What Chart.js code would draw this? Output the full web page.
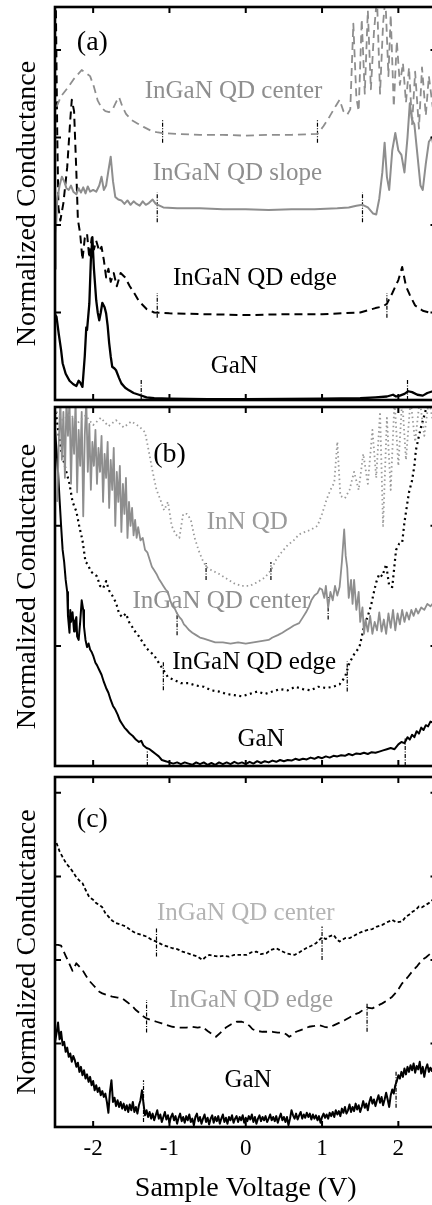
<!DOCTYPE html>
<html><head><meta charset="utf-8">
<script src="https://cdn.jsdelivr.net/npm/chart.js@4"></script>
<style>
html,body{margin:0;padding:0;background:#fff;overflow:hidden;width:432px;height:1205px;position:relative;}
canvas{position:absolute;left:0;}
</style></head><body>
<canvas id="ca" width="440" height="402" style="top:0px"></canvas>
<canvas id="cb" width="440" height="366" style="top:402px"></canvas>
<canvas id="cc" width="440" height="437" style="top:768px"></canvas>
<script>
// ---------- shared axis values ----------
const xTicks = [-2, -1, 0, 1, 2];
const xLabelText = "Sample Voltage (V)";
const yLabelText = "Normalized Conductance";
const yTicksA = [1, 2, 3, 4];
const yTicksB = [1, 2];
const yTicksC = [1, 2, 3, 4];

// ---------- panel (a) : [voltage, normalized conductance] ----------
const aCenter = [[-2.48,3.35],[-2.42,3.47],[-2.34,3.56],[-2.26,3.66],[-2.20,3.72],[-2.15,3.77],[-2.10,3.74],[-2.04,3.70],[-1.99,3.58],[-1.94,3.42],[-1.89,3.34],[-1.84,3.30],[-1.79,3.29],[-1.74,3.33],[-1.69,3.42],[-1.66,3.46],[-1.62,3.36],[-1.57,3.27],[-1.50,3.20],[-1.42,3.16],[-1.34,3.12],[-1.25,3.08],[-1.17,3.06],[-1.09,3.05],[-0.9,3.04],[-0.6,3.03],[-0.3,3.03],[0,3.02],[0.3,3.03],[0.6,3.03],[0.94,3.04],[1.02,3.13],[1.10,3.24],[1.18,3.36],[1.23,3.43],[1.28,3.30],[1.33,3.26],[1.37,3.32],[1.41,4.30],[1.45,3.45],[1.48,3.30],[1.52,4.35],[1.56,3.50],[1.60,4.45],[1.64,3.55],[1.68,4.20],[1.72,4.60],[1.76,3.50],[1.80,4.30],[1.83,4.60],[1.87,3.70],[1.90,4.40],[1.94,3.35],[1.98,4.10],[2.02,3.60],[2.06,3.85],[2.10,3.40],[2.14,3.80],[2.18,3.15],[2.22,3.75],[2.27,3.10],[2.31,3.80],[2.36,3.25],[2.40,3.70],[2.45,3.35],[2.50,3.75]];
const aSlope = [[-2.5,1.5],[-2.49,1.9],[-2.47,2.3],[-2.44,2.45],[-2.41,2.55],[-2.38,2.5],[-2.35,2.42],[-2.32,2.4],[-2.29,2.45],[-2.26,2.38],[-2.22,2.35],[-2.19,2.42],[-2.16,2.37],[-2.13,2.43],[-2.10,2.36],[-2.07,2.44],[-2.04,2.38],[-2.0,2.4],[-1.96,2.38],[-1.92,2.45],[-1.89,2.55],[-1.86,2.4],[-1.83,2.45],[-1.80,2.62],[-1.77,2.78],[-1.74,2.5],[-1.71,2.32],[-1.67,2.29],[-1.63,2.28],[-1.59,2.24],[-1.55,2.28],[-1.51,2.23],[-1.47,2.27],[-1.43,2.24],[-1.39,2.22],[-1.35,2.27],[-1.31,2.23],[-1.27,2.25],[-1.22,2.29],[-1.18,2.24],[-1.13,2.22],[-1.08,2.2],[-0.9,2.19],[-0.6,2.19],[-0.3,2.18],[0,2.18],[0.3,2.17],[0.6,2.18],[0.9,2.18],[1.2,2.19],[1.35,2.2],[1.45,2.22],[1.53,2.23],[1.6,2.2],[1.67,2.13],[1.71,2.12],[1.75,2.3],[1.79,2.6],[1.82,2.94],[1.85,2.55],[1.88,2.4],[1.92,2.85],[1.96,3.05],[2.0,2.85],[2.04,2.8],[2.08,2.6],[2.12,3.0],[2.15,3.39],[2.18,3.2],[2.21,3.15],[2.25,2.8],[2.29,2.45],[2.32,2.4],[2.36,2.7],[2.40,2.95],[2.44,3.0],[2.48,2.8],[2.5,2.6]];
const aEdge = [[-2.49,4.6],[-2.47,3.0],[-2.455,2.2],[-2.43,2.05],[-2.39,2.25],[-2.34,2.66],[-2.30,3.2],[-2.28,3.43],[-2.25,3.3],[-2.22,2.6],[-2.20,2.06],[-2.17,1.9],[-2.14,1.6],[-2.11,1.85],[-2.08,1.9],[-2.05,1.62],[-2.02,1.85],[-1.99,1.72],[-1.96,1.82],[-1.92,1.7],[-1.89,1.75],[-1.86,1.6],[-1.83,1.4],[-1.80,1.5],[-1.77,1.35],[-1.73,1.45],[-1.69,1.3],[-1.64,1.45],[-1.58,1.4],[-1.52,1.3],[-1.46,1.22],[-1.40,1.13],[-1.30,1.04],[-1.2,1.0],[-1.0,0.99],[-0.5,0.98],[0,0.97],[0.5,0.98],[1.0,0.98],[1.5,1.0],[1.7,1.05],[1.8,1.07],[1.85,1.1],[1.92,1.22],[2.0,1.37],[2.05,1.52],[2.1,1.3],[2.15,1.2],[2.22,1.08],[2.32,1.02],[2.4,1.0],[2.5,1.0]];
const aGaN = [[-2.5,0.98],[-2.48,0.95],[-2.45,0.75],[-2.42,0.57],[-2.40,0.42],[-2.36,0.3],[-2.31,0.22],[-2.26,0.18],[-2.22,0.16],[-2.19,0.22],[-2.17,0.2],[-2.14,0.15],[-2.11,0.5],[-2.09,0.83],[-2.08,0.8],[-2.05,1.1],[-2.03,1.6],[-2.01,1.86],[-1.99,1.5],[-1.96,1.14],[-1.94,1.0],[-1.92,0.91],[-1.90,1.0],[-1.88,1.11],[-1.85,1.06],[-1.83,0.99],[-1.81,0.85],[-1.79,0.65],[-1.77,0.5],[-1.75,0.38],[-1.72,0.36],[-1.70,0.34],[-1.66,0.25],[-1.63,0.19],[-1.58,0.14],[-1.53,0.11],[-1.47,0.08],[-1.40,0.06],[-1.3,0.03],[-1.2,0.02],[-1.0,0.015],[-0.5,0.01],[0,0.01],[0.5,0.012],[1.0,0.015],[1.5,0.02],[1.7,0.03],[1.85,0.04],[1.93,0.06],[1.97,0.04],[2.02,0.05],[2.08,0.07],[2.13,0.1],[2.18,0.09],[2.25,0.06],[2.32,0.05],[2.38,0.08],[2.45,0.1],[2.5,0.12]];
// band-edge markers: [voltage, low, high]
const aMarkers = [[-1.09,2.94,3.2],[0.94,2.94,3.2],[-1.16,2.03,2.37],[1.53,2.03,2.37],[-1.16,0.94,1.22],[1.85,0.94,1.22],[-1.37,0,0.23],[2.12,0,0.23]];

// ---------- panel (b) ----------
const bInN = [[-2.48,2.95],[-2.4,2.88],[-2.3,2.93],[-2.2,2.86],[-2.1,2.92],[-2.0,2.84],[-1.9,2.9],[-1.8,2.83],[-1.7,2.88],[-1.6,2.82],[-1.5,2.87],[-1.4,2.83],[-1.32,2.78],[-1.27,2.62],[-1.22,2.45],[-1.17,2.3],[-1.12,2.22],[-1.07,2.13],[-1.02,2.2],[-0.97,2.0],[-0.92,1.93],[-0.87,1.9],[-0.82,2.1],[-0.77,2.1],[-0.72,2.05],[-0.67,1.9],[-0.62,1.8],[-0.57,1.72],[-0.52,1.66],[-0.45,1.63],[-0.35,1.6],[-0.25,1.56],[-0.15,1.52],[-0.05,1.5],[0.05,1.5],[0.15,1.53],[0.25,1.57],[0.33,1.63],[0.40,1.72],[0.47,1.78],[0.55,1.84],[0.63,1.88],[0.7,1.93],[0.78,1.95],[0.86,1.97],[0.94,2.0],[1.0,2.1],[1.06,2.22],[1.11,2.3],[1.16,2.36],[1.2,2.7],[1.24,2.25],[1.3,2.23],[1.36,2.3],[1.42,2.45],[1.48,2.3],[1.54,2.6],[1.6,2.35],[1.66,2.8],[1.71,2.4],[1.76,2.95],[1.8,2.0],[1.85,2.9],[1.9,2.3],[1.95,3.05],[2.0,2.5],[2.05,3.05],[2.1,2.55],[2.16,3.05],[2.22,2.7],[2.28,3.05],[2.34,2.75],[2.4,3.05],[2.46,2.85],[2.5,3.0]];
const bCenter = [[-2.47,2.2],[-2.45,2.7],[-2.43,3.05],[-2.41,2.55],[-2.39,2.95],[-2.37,2.4],[-2.35,3.05],[-2.33,2.75],[-2.31,3.05],[-2.29,2.35],[-2.27,2.9],[-2.25,2.6],[-2.23,3.05],[-2.21,2.28],[-2.19,2.8],[-2.17,2.5],[-2.15,2.95],[-2.13,2.08],[-2.11,2.75],[-2.09,3.05],[-2.07,2.45],[-2.05,2.85],[-2.03,2.3],[-2.01,2.7],[-1.99,2.5],[-1.97,2.8],[-1.95,2.35],[-1.93,2.65],[-1.91,2.45],[-1.89,2.75],[-1.87,2.2],[-1.85,2.6],[-1.83,2.4],[-1.81,2.7],[-1.79,2.15],[-1.77,2.55],[-1.75,2.3],[-1.73,2.65],[-1.71,2.0],[-1.69,2.45],[-1.67,2.2],[-1.65,2.5],[-1.63,1.95],[-1.61,2.35],[-1.59,2.1],[-1.57,2.4],[-1.55,1.9],[-1.53,2.2],[-1.51,2.0],[-1.49,2.15],[-1.47,1.92],[-1.45,2.05],[-1.43,1.9],[-1.41,1.99],[-1.38,1.88],[-1.35,1.9],[-1.32,1.8],[-1.29,1.78],[-1.26,1.72],[-1.23,1.66],[-1.2,1.63],[-1.17,1.6],[-1.14,1.56],[-1.11,1.53],[-1.08,1.5],[-1.05,1.47],[-1.02,1.45],[-0.99,1.38],[-0.96,1.33],[-0.93,1.31],[-0.9,1.27],[-0.87,1.24],[-0.84,1.22],[-0.81,1.18],[-0.78,1.16],[-0.74,1.13],[-0.70,1.11],[-0.65,1.09],[-0.6,1.07],[-0.55,1.06],[-0.5,1.05],[-0.45,1.04],[-0.4,1.03],[-0.3,1.03],[-0.2,1.02],[-0.1,1.03],[0,1.02],[0.1,1.03],[0.2,1.04],[0.3,1.05],[0.35,1.07],[0.42,1.09],[0.48,1.11],[0.53,1.13],[0.58,1.15],[0.63,1.17],[0.7,1.19],[0.75,1.24],[0.79,1.28],[0.83,1.33],[0.86,1.38],[0.9,1.42],[0.94,1.44],[0.97,1.48],[1.0,1.47],[1.03,1.4],[1.05,1.5],[1.08,1.32],[1.11,1.45],[1.14,1.38],[1.17,1.5],[1.2,1.42],[1.23,1.49],[1.26,1.7],[1.29,1.97],[1.31,1.75],[1.33,1.65],[1.35,1.4],[1.38,1.55],[1.4,1.35],[1.42,1.55],[1.45,1.3],[1.48,1.45],[1.5,1.2],[1.53,1.32],[1.55,1.1],[1.57,1.22],[1.6,1.12],[1.63,1.25],[1.66,1.1],[1.69,1.2],[1.72,1.13],[1.75,1.28],[1.78,1.12],[1.81,1.22],[1.84,1.1],[1.87,1.27],[1.9,1.15],[1.93,1.3],[1.96,1.13],[1.99,1.27],[2.02,1.18],[2.05,1.3],[2.08,1.2],[2.11,1.28],[2.14,1.22],[2.17,1.3],[2.2,1.25],[2.23,1.31],[2.26,1.27],[2.3,1.32],[2.34,1.3],[2.38,1.35],[2.42,1.33],[2.46,1.36],[2.5,1.35]];
const bEdge = [[-2.49,2.95],[-2.45,2.75],[-2.41,2.6],[-2.36,2.47],[-2.31,2.35],[-2.27,2.2],[-2.22,2.12],[-2.18,1.99],[-2.14,1.88],[-2.10,1.7],[-2.07,1.68],[-2.03,1.62],[-1.99,1.6],[-1.95,1.58],[-1.91,1.5],[-1.87,1.48],[-1.83,1.54],[-1.79,1.46],[-1.75,1.42],[-1.70,1.36],[-1.66,1.27],[-1.62,1.24],[-1.57,1.27],[-1.53,1.2],[-1.49,1.16],[-1.44,1.11],[-1.40,1.08],[-1.35,1.03],[-1.30,0.98],[-1.25,0.95],[-1.20,0.92],[-1.15,0.87],[-1.08,0.8],[-1.02,0.74],[-0.95,0.72],[-0.85,0.69],[-0.75,0.69],[-0.65,0.67],[-0.55,0.66],[-0.45,0.63],[-0.35,0.62],[-0.25,0.6],[-0.15,0.59],[-0.05,0.58],[0.05,0.6],[0.15,0.62],[0.25,0.6],[0.35,0.62],[0.45,0.64],[0.55,0.63],[0.65,0.66],[0.75,0.64],[0.85,0.63],[0.95,0.66],[1.05,0.65],[1.15,0.66],[1.23,0.68],[1.3,0.74],[1.36,0.86],[1.42,0.93],[1.49,0.99],[1.55,1.16],[1.6,1.25],[1.64,1.33],[1.68,1.45],[1.71,1.53],[1.75,1.6],[1.79,1.58],[1.84,1.68],[1.88,1.5],[1.92,1.49],[1.97,1.8],[2.01,1.85],[2.05,1.86],[2.08,2.03],[2.12,2.2],[2.14,2.28],[2.18,2.38],[2.21,2.5],[2.23,2.63],[2.27,2.75],[2.30,2.83],[2.34,2.92],[2.37,2.99],[2.42,3.05]];
const bGaN = [[-2.5,2.8],[-2.48,2.63],[-2.46,2.45],[-2.44,2.22],[-2.42,2.0],[-2.40,1.8],[-2.38,1.7],[-2.36,1.55],[-2.34,1.45],[-2.33,1.25],[-2.31,1.11],[-2.30,1.3],[-2.29,1.2],[-2.27,1.28],[-2.25,1.12],[-2.24,1.2],[-2.22,1.24],[-2.21,1.08],[-2.19,1.05],[-2.17,1.2],[-2.15,1.38],[-2.13,1.3],[-2.12,1.16],[-2.10,1.05],[-2.08,0.99],[-2.06,1.02],[-2.04,0.97],[-2.02,0.95],[-2.0,0.92],[-1.97,0.86],[-1.95,0.84],[-1.92,0.8],[-1.89,0.76],[-1.86,0.7],[-1.83,0.65],[-1.8,0.61],[-1.77,0.55],[-1.74,0.5],[-1.71,0.47],[-1.68,0.43],[-1.65,0.38],[-1.62,0.35],[-1.59,0.32],[-1.56,0.3],[-1.52,0.27],[-1.48,0.25],[-1.44,0.22],[-1.40,0.2],[-1.37,0.21],[-1.34,0.17],[-1.30,0.15],[-1.26,0.14],[-1.22,0.12],[-1.18,0.1],[-1.14,0.08],[-1.1,0.05],[-1.05,0.04],[-1.0,0.03],[-0.95,0.02],[-0.9,0.03],[-0.85,0.015],[-0.8,0.03],[-0.75,0.02],[-0.7,0.01],[-0.65,0.03],[-0.6,0.015],[-0.55,0.03],[-0.5,0.01],[-0.45,0.025],[-0.4,0.01],[-0.35,0.03],[-0.3,0.015],[-0.25,0.03],[-0.2,0.015],[-0.15,0.035],[-0.1,0.02],[-0.05,0.03],[0,0.015],[0.05,0.035],[0.1,0.02],[0.15,0.04],[0.2,0.025],[0.25,0.04],[0.3,0.03],[0.35,0.045],[0.4,0.035],[0.45,0.05],[0.5,0.04],[0.55,0.05],[0.6,0.045],[0.65,0.06],[0.7,0.05],[0.75,0.06],[0.8,0.055],[0.85,0.07],[0.9,0.06],[0.95,0.075],[1.0,0.065],[1.05,0.08],[1.1,0.07],[1.15,0.085],[1.2,0.08],[1.25,0.09],[1.3,0.085],[1.35,0.1],[1.4,0.09],[1.45,0.105],[1.5,0.1],[1.55,0.11],[1.6,0.1],[1.65,0.115],[1.7,0.11],[1.75,0.12],[1.8,0.13],[1.85,0.14],[1.9,0.15],[1.95,0.14],[2.0,0.18],[2.04,0.2],[2.08,0.19],[2.12,0.24],[2.15,0.22],[2.18,0.26],[2.21,0.24],[2.24,0.29],[2.27,0.27],[2.3,0.32],[2.33,0.3],[2.36,0.34],[2.39,0.33],[2.42,0.37],[2.46,0.36],[2.5,0.4]];
const bMarkers = [[-0.52,1.55,1.69],[0.33,1.55,1.7],[-0.9,1.09,1.28],[1.08,1.22,1.41],[-1.08,0.63,0.87],[1.33,0.62,0.87],[-1.29,0,0.12],[2.09,0,0.23]];

// ---------- panel (c) ----------
const cCenter = [[-2.48,3.4],[-2.44,3.3],[-2.40,3.23],[-2.35,3.15],[-2.31,3.11],[-2.27,3.06],[-2.22,2.99],[-2.18,2.95],[-2.14,2.92],[-2.10,2.84],[-2.05,2.75],[-2.0,2.72],[-1.96,2.68],[-1.92,2.66],[-1.88,2.63],[-1.84,2.56],[-1.79,2.51],[-1.75,2.47],[-1.70,2.44],[-1.63,2.42],[-1.57,2.4],[-1.50,2.35],[-1.44,2.32],[-1.37,2.3],[-1.30,2.28],[-1.23,2.24],[-1.17,2.22],[-1.09,2.18],[-1.02,2.16],[-0.96,2.14],[-0.9,2.13],[-0.83,2.1],[-0.76,2.08],[-0.70,2.06],[-0.63,2.04],[-0.57,2.0],[-0.52,2.04],[-0.48,2.06],[-0.42,2.05],[-0.35,2.04],[-0.28,2.05],[-0.22,2.04],[-0.15,2.06],[-0.09,2.06],[0.01,2.06],[0.07,2.09],[0.14,2.1],[0.2,2.07],[0.27,2.08],[0.33,2.12],[0.40,2.14],[0.46,2.11],[0.53,2.08],[0.58,2.07],[0.64,2.06],[0.7,2.09],[0.79,2.14],[0.86,2.17],[0.92,2.2],[1.0,2.27],[1.05,2.25],[1.09,2.28],[1.15,2.3],[1.2,2.24],[1.23,2.22],[1.3,2.26],[1.36,2.26],[1.42,2.29],[1.48,2.32],[1.53,2.34],[1.6,2.36],[1.66,2.37],[1.72,2.4],[1.79,2.42],[1.85,2.45],[1.92,2.48],[1.97,2.45],[2.05,2.46],[2.1,2.52],[2.14,2.54],[2.19,2.58],[2.23,2.6],[2.27,2.64],[2.31,2.63],[2.36,2.66],[2.4,2.68],[2.45,2.72],[2.5,2.76]];
const cEdge = [[-2.5,2.18],[-2.46,2.18],[-2.42,2.17],[-2.36,2.05],[-2.31,1.95],[-2.27,1.87],[-2.22,1.96],[-2.18,1.92],[-2.14,1.88],[-2.1,1.82],[-2.05,1.75],[-2.0,1.7],[-1.96,1.66],[-1.92,1.62],[-1.88,1.6],[-1.82,1.58],[-1.75,1.56],[-1.68,1.55],[-1.62,1.54],[-1.56,1.5],[-1.49,1.45],[-1.44,1.4],[-1.40,1.37],[-1.35,1.33],[-1.30,1.3],[-1.24,1.28],[-1.17,1.26],[-1.10,1.24],[-1.04,1.22],[-0.96,1.2],[-0.87,1.19],[-0.78,1.19],[-0.70,1.2],[-0.63,1.19],[-0.57,1.2],[-0.5,1.15],[-0.44,1.11],[-0.39,1.08],[-0.33,1.13],[-0.26,1.19],[-0.19,1.23],[-0.12,1.26],[-0.05,1.26],[0.01,1.24],[0.05,1.21],[0.09,1.17],[0.15,1.15],[0.22,1.14],[0.3,1.14],[0.35,1.14],[0.42,1.13],[0.48,1.13],[0.53,1.11],[0.57,1.08],[0.62,1.11],[0.66,1.14],[0.72,1.16],[0.78,1.18],[0.83,1.2],[0.9,1.21],[0.96,1.22],[1.03,1.2],[1.09,1.19],[1.16,1.22],[1.23,1.25],[1.3,1.28],[1.36,1.31],[1.43,1.35],[1.49,1.37],[1.55,1.41],[1.59,1.43],[1.66,1.42],[1.72,1.45],[1.79,1.48],[1.86,1.52],[1.92,1.56],[1.98,1.62],[2.05,1.72],[2.12,1.79],[2.18,1.86],[2.25,1.93],[2.31,2.0],[2.36,2.03],[2.4,2.06],[2.45,2.1],[2.5,2.15]];
const cGaN = [[-2.50,1.02],[-2.48,1.12],[-2.46,1.25],[-2.44,1.05],[-2.42,1.14],[-2.40,0.98],[-2.38,1.02],[-2.36,0.9],[-2.34,0.95],[-2.32,0.84],[-2.30,0.88],[-2.28,0.78],[-2.26,0.85],[-2.24,0.8],[-2.22,0.72],[-2.20,0.77],[-2.18,0.66],[-2.16,0.72],[-2.14,0.62],[-2.12,0.68],[-2.10,0.58],[-2.08,0.63],[-2.06,0.54],[-2.04,0.6],[-2.02,0.5],[-2.00,0.55],[-1.98,0.44],[-1.96,0.5],[-1.94,0.42],[-1.92,0.47],[-1.90,0.38],[-1.88,0.43],[-1.86,0.36],[-1.84,0.4],[-1.82,0.3],[-1.80,0.17],[-1.78,0.42],[-1.76,0.56],[-1.74,0.3],[-1.72,0.35],[-1.70,0.25],[-1.68,0.32],[-1.66,0.24],[-1.64,0.3],[-1.62,0.22],[-1.60,0.28],[-1.58,0.2],[-1.56,0.26],[-1.54,0.18],[-1.52,0.27],[-1.50,0.2],[-1.48,0.3],[-1.46,0.18],[-1.44,0.24],[-1.42,0.16],[-1.40,0.26],[-1.38,0.32],[-1.36,0.44],[-1.34,0.28],[-1.32,0.14],[-1.30,0.2],[-1.28,0.12],[-1.26,0.18],[-1.24,0.1],[-1.22,0.16],[-1.20,0.08],[-1.18,0.14],[-1.16,0.2],[-1.14,0.1],[-1.12,0.15],[-1.10,0.06],[-1.08,0.12],[-1.06,0.18],[-1.04,0.09],[-1.02,0.14],[-1.00,0.05],[-0.98,0.12],[-0.96,0.16],[-0.94,0.08],[-0.92,0.13],[-0.90,0.04],[-0.88,0.11],[-0.86,0.16],[-0.84,0.07],[-0.82,0.12],[-0.80,0.05],[-0.78,0.13],[-0.76,0.08],[-0.74,0.15],[-0.72,0.06],[-0.70,0.1],[-0.68,0.02],[-0.66,0.12],[-0.64,0.16],[-0.62,0.07],[-0.60,0.12],[-0.58,0.04],[-0.56,0.1],[-0.54,0.15],[-0.52,0.06],[-0.50,0.11],[-0.48,0.03],[-0.46,0.1],[-0.44,0.14],[-0.42,0.05],[-0.40,0.12],[-0.38,0.07],[-0.36,0.13],[-0.34,0.04],[-0.32,0.1],[-0.30,0.15],[-0.28,0.06],[-0.26,0.11],[-0.24,0.04],[-0.22,0.12],[-0.20,0.08],[-0.18,0.14],[-0.16,0.05],[-0.14,0.1],[-0.12,0.13],[-0.10,0.06],[-0.08,0.12],[-0.06,0.08],[-0.04,0.14],[-0.02,0.05],[0.00,0.11],[0.02,0.07],[0.04,0.13],[0.06,0.09],[0.08,0.15],[0.10,0.06],[0.12,0.12],[0.14,0.04],[0.16,0.1],[0.18,0.14],[0.20,0.07],[0.22,0.12],[0.24,0.08],[0.26,0.13],[0.28,0.06],[0.30,0.1],[0.32,0.15],[0.34,0.08],[0.36,0.12],[0.38,0.07],[0.40,0.13],[0.42,0.05],[0.44,0.11],[0.46,0.16],[0.48,0.08],[0.50,0.12],[0.52,0.06],[0.54,0.12],[0.56,0.02],[0.58,0.1],[0.60,0.2],[0.62,0.14],[0.64,0.1],[0.66,0.16],[0.68,0.09],[0.70,0.14],[0.72,0.18],[0.74,0.1],[0.76,0.15],[0.78,0.11],[0.80,0.17],[0.82,0.12],[0.84,0.16],[0.86,0.09],[0.88,0.15],[0.90,0.1],[0.92,0.14],[0.94,0.08],[0.96,0.13],[0.98,0.05],[1.00,0.12],[1.02,0.16],[1.04,0.11],[1.06,0.15],[1.08,0.1],[1.10,0.17],[1.12,0.13],[1.14,0.18],[1.16,0.12],[1.18,0.2],[1.20,0.15],[1.22,0.19],[1.24,0.13],[1.26,0.22],[1.28,0.17],[1.30,0.24],[1.32,0.16],[1.34,0.2],[1.36,0.27],[1.38,0.18],[1.40,0.24],[1.42,0.19],[1.44,0.28],[1.46,0.21],[1.48,0.26],[1.50,0.18],[1.52,0.24],[1.54,0.31],[1.56,0.23],[1.58,0.28],[1.60,0.2],[1.62,0.3],[1.64,0.36],[1.66,0.28],[1.68,0.33],[1.70,0.25],[1.72,0.32],[1.74,0.38],[1.76,0.29],[1.78,0.36],[1.80,0.26],[1.82,0.33],[1.84,0.41],[1.86,0.33],[1.88,0.24],[1.90,0.38],[1.92,0.45],[1.94,0.4],[1.96,0.5],[1.98,0.55],[2.00,0.62],[2.02,0.58],[2.04,0.66],[2.06,0.6],[2.08,0.7],[2.10,0.63],[2.12,0.72],[2.14,0.66],[2.16,0.74],[2.18,0.68],[2.20,0.76],[2.22,0.65],[2.24,0.73],[2.26,0.69],[2.28,0.78],[2.30,0.64],[2.32,0.72],[2.34,0.6],[2.36,0.7],[2.38,0.75],[2.40,0.66],[2.42,0.71],[2.44,0.67],[2.46,0.73],[2.48,0.69],[2.50,0.72]];
const cMarkers = [[-1.17,2.04,2.38],[1.0,2.0,2.4],[-1.30,1.13,1.52],[1.59,1.14,1.49],[-1.34,0.06,0.56],[1.97,0.23,0.66]];

// ---------- label texts ----------
const aLabels = ["(a)", "InGaN QD center", "InGaN QD slope", "InGaN QD edge", "GaN"];
const bLabels = ["(b)", "InN QD", "InGaN QD center", "InGaN QD edge", "GaN"];
const cLabels = ["(c)", "InGaN QD center", "InGaN QD edge", "GaN"];

// ---------- styling / placement (not data) ----------
const SERIF = "'Liberation Serif','Times New Roman',serif";
Chart.defaults.font.family = SERIF;
const GRAY = '#8e8e8e';

const framePlugin = {
  id: 'frame',
  afterDatasetsDraw(chart, args, o) {
    const {ctx, chartArea: a, scales: {x, y}} = chart;
    ctx.save();
    ctx.strokeStyle = '#000';
    ctx.lineWidth = 2;
    ctx.setLineDash([]);
    const L = 6;
    ctx.beginPath();
    xTicks.forEach(v => {
      const p = x.getPixelForValue(v);
      ctx.moveTo(p, a.top); ctx.lineTo(p, a.top + L);
      ctx.moveTo(p, a.bottom); ctx.lineTo(p, a.bottom - L);
    });
    o.yTicks.forEach(v => {
      const p = y.getPixelForValue(v);
      ctx.moveTo(a.left, p); ctx.lineTo(a.left + L, p);
      ctx.moveTo(a.right, p); ctx.lineTo(a.right - L, p);
    });
    ctx.stroke();
    ctx.lineWidth = 2.6;
    ctx.strokeRect(a.left, a.top, a.right - a.left, a.bottom - a.top);
    ctx.restore();
  }
};
const textPlugin = {
  id: 'texts',
  afterDatasetsDraw(chart, args, o) {
    const {ctx, scales: {x, y}} = chart;
    ctx.save();
    ctx.textAlign = 'center';
    ctx.textBaseline = 'middle';
    o.items.forEach(it => {
      ctx.font = it.size + 'px ' + SERIF;
      ctx.fillStyle = it.color;
      ctx.fillText(it.text, x.getPixelForValue(it.x), y.getPixelForValue(it.y));
    });
    ctx.restore();
  }
};

function lineDs(arr, color, width, dash) {
  return {data: arr.map(p => ({x: p[0], y: p[1]})), borderColor: color, borderWidth: width,
    borderDash: dash, pointRadius: 0, tension: 0, fill: false, clip: 0, borderJoinStyle: 'round'};
}
function markerDs(m) {
  return m.map(k => ({data: [{x: k[0], y: k[1]}, {x: k[0], y: k[2]}], borderColor: '#000',
    borderWidth: 1.2, borderDash: [4, 1.5, 1, 1.5], pointRadius: 0, fill: false, clip: 0}));
}

function makeChart(id, datasets, yMax, yTicks, items, pad, showX) {
  const xScale = {type: 'linear', min: -2.5, max: 2.5, display: showX,
    grid: {display: false, drawTicks: false}, border: {display: false},
    afterBuildTicks: s => { s.ticks = xTicks.map(v => ({value: v})); },
    ticks: {color: '#000', font: {size: 23, family: SERIF}, padding: 8, maxRotation: 0},
    title: {display: true, text: xLabelText, color: '#000', font: {size: 28, family: SERIF}, padding: {top: 0, bottom: 0}}};
  if (showX) xScale.afterFit = s => { s.height = 78; };
  return new Chart(document.getElementById(id), {
    type: 'line',
    data: {datasets},
    options: {
      responsive: false, animation: false, events: [],
      layout: {padding: pad},
      plugins: {legend: {display: false}, tooltip: {enabled: false},
        frame: {yTicks}, texts: {items}},
      scales: {
        x: xScale,
        y: {type: 'linear', min: 0, max: yMax, display: true,
          grid: {display: false, drawTicks: false}, border: {display: false},
          ticks: {display: false},
          afterFit: s => { s.width = 55; },
          title: {display: true, text: yLabelText, color: '#000', font: {size: 28, family: SERIF}, padding: {top: 11, bottom: 0}}}
      }
    },
    plugins: [framePlugin, textPlugin]
  });
}

makeChart('ca', [
  lineDs(aCenter, GRAY, 1.8, [8, 5]),
  lineDs(aSlope, GRAY, 2, []),
  lineDs(aEdge, '#000', 2, [8, 5]),
  lineDs(aGaN, '#000', 2.3, []),
  ...markerDs(aMarkers)
], 4.49, yTicksA, [
  {text: aLabels[0], x: -2.01, y: 4.08, size: 28, color: '#000'},
  {text: aLabels[1], x: -0.16, y: 3.52, size: 25, color: GRAY},
  {text: aLabels[2], x: -0.11, y: 2.59, size: 25, color: GRAY},
  {text: aLabels[3], x: 0.12, y: 1.39, size: 25, color: '#000'},
  {text: aLabels[4], x: -0.15, y: 0.38, size: 25, color: '#000'}
], {top: 7, bottom: 2, left: 0, right: 3.5}, false);

makeChart('cb', [
  lineDs(bInN, '#9a9a9a', 1.8, [1.5, 3]),
  lineDs(bCenter, GRAY, 1.8, []),
  lineDs(bEdge, '#000', 2.2, [2, 3.5]),
  lineDs(bGaN, '#000', 2, []),
  ...markerDs(bMarkers)
], 2.99, yTicksB, [
  {text: bLabels[0], x: -1.0, y: 2.59, size: 28, color: '#000'},
  {text: bLabels[1], x: 0.02, y: 2.03, size: 25, color: '#9a9a9a'},
  {text: bLabels[2], x: -0.32, y: 1.37, size: 25, color: GRAY},
  {text: bLabels[3], x: 0.11, y: 0.86, size: 25, color: '#000'},
  {text: bLabels[4], x: 0.2, y: 0.22, size: 25, color: '#000'}
], {top: 5, bottom: 2, left: 0, right: 3.5}, false);

makeChart('cc', [
  lineDs(cCenter, '#000', 1.8, [3.5, 2.5]),
  lineDs(cEdge, '#000', 1.8, [8, 5]),
  lineDs(cGaN, '#000', 2, []),
  ...markerDs(cMarkers)
], 4.19, yTicksC, [
  {text: cLabels[0], x: -2.01, y: 3.68, size: 28, color: '#000'},
  {text: cLabels[1], x: 0.0, y: 2.56, size: 25, color: '#b4b4b4'},
  {text: cLabels[2], x: 0.07, y: 1.52, size: 25, color: '#a0a0a0'},
  {text: cLabels[3], x: 0.03, y: 0.56, size: 25, color: '#000'}
], {top: 9, bottom: 0, left: 0, right: 3.5}, true);
</script>
</body></html>
